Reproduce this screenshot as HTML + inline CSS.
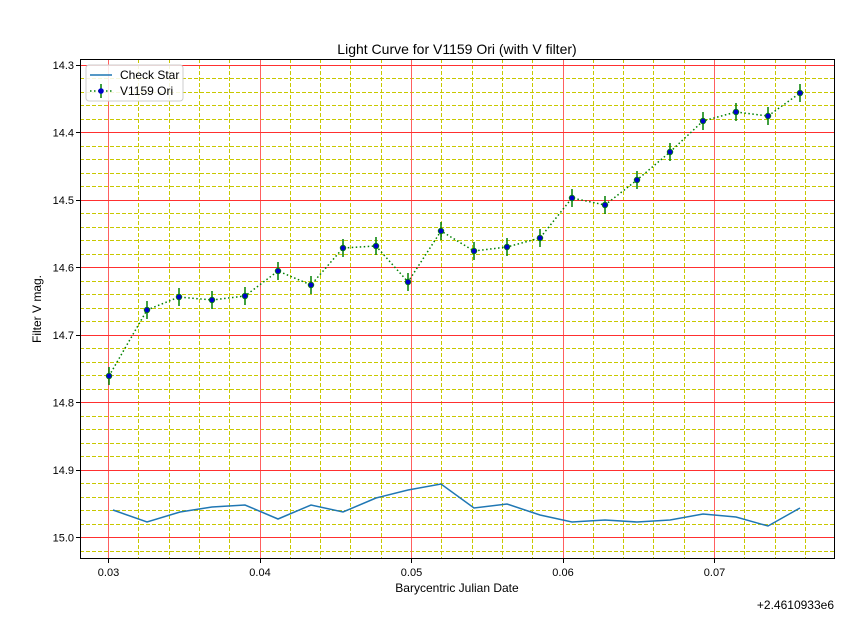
<!DOCTYPE html><html><head><style>body{margin:0;background:#fff}svg{font-family:"Liberation Sans","DejaVu Sans",sans-serif}</style></head><body>
<svg width="863" height="614" xmlns="http://www.w3.org/2000/svg">
<rect width="863" height="614" fill="#fff"/>
<path fill="none" stroke="#c8c800" stroke-dasharray="4,2" shape-rendering="crispEdges" d="M138.5,59V559M169.5,59V559M199.5,59V559M229.5,59V559M290.5,59V559M320.5,59V559M350.5,59V559M381.5,59V559M441.5,59V559M472.5,59V559M502.5,59V559M532.5,59V559M593.5,59V559M623.5,59V559M653.5,59V559M684.5,59V559M744.5,59V559M775.5,59V559M805.5,59V559
M80,78.5H835M80,92.5H835M80,105.5H835M80,119.5H835M80,146.5H835M80,159.5H835M80,173.5H835M80,186.5H835M80,213.5H835M80,227.5H835M80,240.5H835M80,254.5H835M80,281.5H835M80,294.5H835M80,308.5H835M80,321.5H835M80,348.5H835M80,362.5H835M80,375.5H835M80,389.5H835M80,416.5H835M80,429.5H835M80,443.5H835M80,456.5H835M80,483.5H835M80,497.5H835M80,510.5H835M80,524.5H835M80,551.5H835"/>
<path fill="none" stroke="#ff6060" stroke-width="1.3" shape-rendering="crispEdges" d="M108.5,59V559M260.5,59V559M411.5,59V559M563.5,59V559M714.5,59V559"/>
<path fill="none" stroke="#ff3030" shape-rendering="crispEdges" d="M80,65.5H835M80,132.5H835M80,200.5H835M80,267.5H835M80,335.5H835M80,402.5H835M80,470.5H835M80,537.5H835"/>
<path fill="none" stroke="#000" d="M108.5,559v4M260.5,559v4M411.5,559v4M563.5,559v4M714.5,559v4M76,65.5h4M76,132.5h4M76,200.5h4M76,267.5h4M76,335.5h4M76,402.5h4M76,470.5h4M76,537.5h4"/>
<g font-size="11" text-anchor="middle">
<text x="108.5" y="576">0.03</text><text x="260" y="576">0.04</text><text x="411.5" y="576">0.05</text><text x="563" y="576">0.06</text><text x="714.5" y="576">0.07</text>
</g>
<g font-size="11" text-anchor="end">
<text x="74" y="69">14.3</text><text x="74" y="136.5">14.4</text><text x="74" y="204">14.5</text><text x="74" y="271.5">14.6</text><text x="74" y="339">14.7</text><text x="74" y="406.5">14.8</text><text x="74" y="474">14.9</text><text x="74" y="541.5">15.0</text>
</g>
<polyline fill="none" stroke="#1f77b4" stroke-width="1.5" points="113,510 147,522 180,512 212,507 245,505 278,519 311,505 343,512 376,498 408,490 441,484 474,508 507,504 540,515 572,522 605,520 637,522 670,520 703,514 736,517 768,526 800,508"/>
<polyline fill="none" stroke="green" stroke-width="1.5" stroke-dasharray="1.5,2.5" points="109,376 147,310 179,297 212,300 245,296 278,271 311,285 343,248 376,246 408,282 441,231 474,251 507,247 540,238 572,198 605,205 637,180 670,152 703,121 736,112 768,116 800,93"/>
<path fill="none" stroke="green" stroke-width="1.5" d="M109,367v18M147,301v18M179,288v18M212,291v18M245,287v18M278,262v18M311,276v18M343,239v18M376,237v18M408,273v18M441,222v18M474,242v18M507,238v18M540,229v18M572,189v18M605,196v18M637,171v18M670,143v18M703,112v18M736,103v18M768,107v18M800,84v18"/>
<g fill="#0000cc" stroke="green" stroke-width="0.8">
<circle cx="109" cy="376" r="2.8"/><circle cx="147" cy="310" r="2.8"/><circle cx="179" cy="297" r="2.8"/><circle cx="212" cy="300" r="2.8"/><circle cx="245" cy="296" r="2.8"/><circle cx="278" cy="271" r="2.8"/><circle cx="311" cy="285" r="2.8"/><circle cx="343" cy="248" r="2.8"/><circle cx="376" cy="246" r="2.8"/><circle cx="408" cy="282" r="2.8"/><circle cx="441" cy="231" r="2.8"/><circle cx="474" cy="251" r="2.8"/><circle cx="507" cy="247" r="2.8"/><circle cx="540" cy="238" r="2.8"/><circle cx="572" cy="198" r="2.8"/><circle cx="605" cy="205" r="2.8"/><circle cx="637" cy="180" r="2.8"/><circle cx="670" cy="152" r="2.8"/><circle cx="703" cy="121" r="2.8"/><circle cx="736" cy="112" r="2.8"/><circle cx="768" cy="116" r="2.8"/><circle cx="800" cy="93" r="2.8"/>
</g>
<rect x="80.5" y="59.5" width="754" height="499" fill="none" stroke="#000" shape-rendering="crispEdges"/>
<rect x="86" y="65" width="97" height="36" rx="3" fill="#fff" fill-opacity="0.85" stroke="#ccc"/>
<line x1="90" x2="112" y1="75" y2="75" stroke="#1f77b4" stroke-width="1.5"/>
<text x="120" y="79" font-size="12">Check Star</text>
<line x1="90" x2="112" y1="91" y2="91" stroke="green" stroke-width="1.5" stroke-dasharray="1.5,2.5"/>
<line x1="101" x2="101" y1="84" y2="98" stroke="green" stroke-width="1.5"/>
<circle cx="101" cy="91" r="2.8" fill="#0000cc"/>
<text x="120" y="95" font-size="12">V1159 Ori</text>
<text x="457" y="54" font-size="14" text-anchor="middle">Light Curve for V1159 Ori (with V filter)</text>
<text x="457" y="592" font-size="12" text-anchor="middle">Barycentric Julian Date</text>
<text x="834" y="609" font-size="12" text-anchor="end">+2.4610933e6</text>
<text transform="translate(41,309) rotate(-90)" font-size="12" text-anchor="middle">Filter V mag.</text>
</svg></body></html>
